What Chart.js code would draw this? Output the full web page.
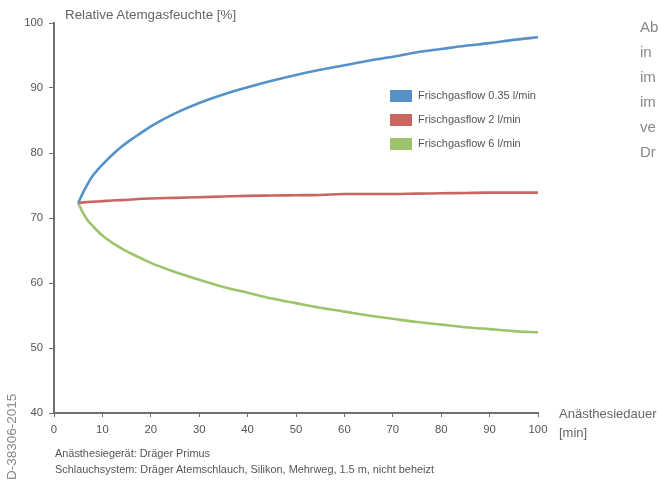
<!DOCTYPE html>
<html>
<head>
<meta charset="utf-8">
<script src="https://cdn.jsdelivr.net/npm/chart.js@4/dist/chart.umd.min.js"></script>
<style>
    html, body { margin: 0; padding: 0; background: #fff; overflow: hidden; }
    body { width: 660px; height: 481px; position: relative; font-family: 'Liberation Sans', Arial, sans-serif; }
    #chart { position: absolute; left: 0; top: 0; }
    .note { position: absolute; color: #555; white-space: nowrap; }
    #yTitle { left: 65px; top: 7px; font-size: 13.4px; color: #666; }
    #xTitle { left: 559px; top: 404px; font-size: 13px; color: #666; line-height: 19px; }
    #foot { left: 55px; top: 445px; font-size: 10.9px; line-height: 16px; color: #555; }
    #docId { left: 4px; top: 480px; font-size: 13.5px; color: #888; transform: rotate(-90deg); transform-origin: 0 0; }
    #sideText { left: 640px; top: 14px; font-size: 15px; line-height: 25px; color: #888; }
</style>
</head>
<body>
<canvas id="chart" width="660" height="481"></canvas>
<div class="note" id="yTitle">Relative Atemgasfeuchte [%]</div>
<div class="note" id="xTitle">Anästhesiedauer<br>[min]</div>
<div class="note" id="foot">Anästhesiegerät: Dräger Primus<br>Schlauchsystem: Dräger Atemschlauch, Silikon, Mehrweg, 1.5 m, nicht beheizt</div>
<div class="note" id="docId">D-38306-2015</div>
<div class="note" id="sideText">Ab<br>in<br>im<br>im<br>ve<br>Dr</div>
<script>
// Data
const minutes = [5, 6, 7, 8, 9, 10, 12, 14, 16, 18, 20, 25, 30, 35, 40, 45, 50, 55, 60, 65, 70, 75, 80, 85, 90, 95, 100];
const flow035 = [72.3, 73.9, 75.3, 76.5, 77.4, 78.2, 79.7, 81.0, 82.1, 83.1, 84.1, 86.1, 87.7, 89.0, 90.1, 91.1, 92.0, 92.8, 93.5, 94.2, 94.8, 95.5, 96.0, 96.5, 96.9, 97.4, 97.8];
const flow2 = [72.3, 72.4, 72.45, 72.5, 72.55, 72.6, 72.7, 72.75, 72.85, 72.95, 73.0, 73.1, 73.2, 73.3, 73.4, 73.45, 73.5, 73.55, 73.7, 73.7, 73.7, 73.75, 73.8, 73.85, 73.9, 73.9, 73.9];
const flow6 = [72.3, 70.8, 69.6, 68.8, 68.0, 67.3, 66.2, 65.3, 64.5, 63.8, 63.1, 61.7, 60.5, 59.4, 58.5, 57.6, 56.9, 56.2, 55.6, 55.0, 54.5, 54.0, 53.6, 53.2, 52.9, 52.6, 52.4];
const seriesLabels = ['Frischgasflow 0.35 l/min', 'Frischgasflow 2 l/min', 'Frischgasflow 6 l/min'];
const seriesColors = ['#5592c8', '#c96661', '#9dc46d'];

const axisColor = '#707070';
const tickFont = { family: "'Liberation Sans', Arial, sans-serif", size: 11.3 };

function toPoints(values) {
    return minutes.map((m, i) => ({ x: m, y: values[i] }));
}

// Legend drawn inside the plot area, like the original
const boxLegend = {
    id: 'boxLegend',
    afterDraw(chart) {
        const ctx = chart.ctx;
        ctx.save();
        ctx.font = "11px 'Liberation Sans', Arial, sans-serif";
        ctx.textBaseline = 'middle';
        chart.data.datasets.forEach((ds, i) => {
            const y = 96 + i * 24;
            ctx.fillStyle = ds.borderColor;
            ctx.fillRect(390, y - 6, 22, 12);
            ctx.fillStyle = '#555';
            ctx.fillText(ds.label, 418, y);
        });
        ctx.restore();
    }
};

const datasets = [flow035, flow2, flow6].map((values, i) => ({
    label: seriesLabels[i],
    data: toPoints(values),
    borderColor: seriesColors[i],
    backgroundColor: seriesColors[i],
    borderWidth: 2.6,
    pointRadius: 0,
    cubicInterpolationMode: 'monotone',
    fill: false
}));

new Chart(document.getElementById('chart').getContext('2d'), {
    type: 'line',
    data: { datasets: datasets },
    options: {
        responsive: false,
        animation: false,
        layout: { padding: { left: 0, right: 122, top: 23, bottom: 0 } },
        plugins: {
            legend: { display: false },
            tooltip: { enabled: false }
        },
        scales: {
            x: {
                type: 'linear',
                min: 0,
                max: 100,
                afterFit: (scale) => { scale.height = 68; },
                border: { color: axisColor, width: 2 },
                grid: { drawOnChartArea: false, drawTicks: true, tickLength: 4, color: axisColor },
                ticks: { stepSize: 10, color: '#555', font: tickFont, padding: 6, maxRotation: 0 }
            },
            y: {
                min: 40,
                max: 100,
                afterFit: (scale) => { scale.width = 54; },
                border: { color: axisColor, width: 2 },
                grid: { drawOnChartArea: false, drawTicks: true, tickLength: 5, color: axisColor },
                ticks: { stepSize: 10, color: '#555', font: tickFont, padding: 6 }
            }
        }
    },
    plugins: [boxLegend]
});
</script>
</body>
</html>
